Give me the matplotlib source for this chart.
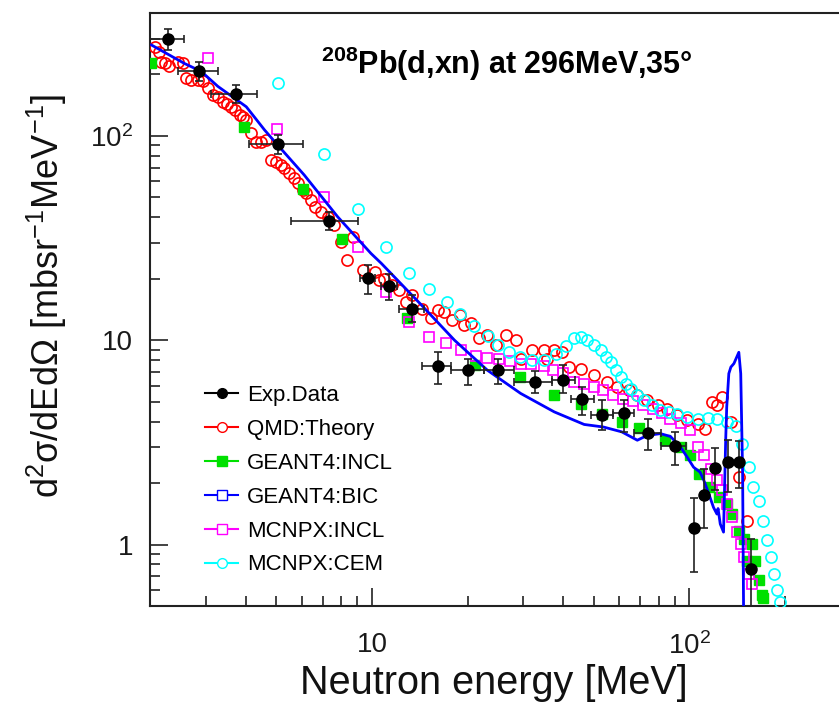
import matplotlib
matplotlib.use("Agg")
import matplotlib.pyplot as plt
from matplotlib.lines import Line2D
from matplotlib.ticker import FixedLocator, FixedFormatter, LogLocator, NullFormatter
import numpy as np

plt.rcParams['font.family'] = ['Liberation Sans', 'DejaVu Sans']
plt.rcParams['mathtext.fontset'] = 'custom'
plt.rcParams['mathtext.rm'] = 'Liberation Sans'
plt.rcParams['mathtext.it'] = 'Liberation Sans:italic'
plt.rcParams['mathtext.bf'] = 'Liberation Sans:bold'

# ---- measured spectrum (energy, value, x-range, y-range) ----
exp_e = [2.28, 2.86, 3.73, 5.05, 7.31, 9.69, 11.3, 13.4, 16.2, 20.0, 25.0, 32.7,
         40.1, 45.7, 53.1, 62.1, 74.1, 89.9]
exp_y = [298, 208, 160, 91.4, 38.5, 20.1, 18.4, 14.3, 7.46, 7.13, 7.13, 6.25,
         6.41, 5.18, 4.29, 4.41, 3.53, 3.03]
exp_elo = [1.9, 2.45, 3.12, 4.10, 5.58, 9.2, 10.7, 12.2, 14.4, 17.8, 22.5, 28.0,
           37.0, 42.3, 48.8, 57.6, 66.9, 81.2]
exp_ehi = [2.56, 3.28, 4.35, 6.05, 9.02, 10.2, 12.0, 14.6, 17.8, 22.5, 28.0, 37.0,
           43.5, 49.9, 57.6, 66.9, 81.2, 97.2]
exp_ylo = [264, 185, 145, 82, 34.6, 16.9, 15.7, 12.3, 6.10, 6.05, 6.10, 5.5,
           5.5, 4.29, 3.62, 3.56, 2.89, 2.45]
exp_yhi = [333, 231, 178, 101, 42.6, 23.3, 21.2, 16.6, 8.80, 8.13, 8.10, 7.1,
           7.6, 5.90, 5.08, 5.08, 4.13, 3.57]

# high-energy points (no energy bin bars)
exp2_e = [103, 111, 120, 132, 143, 156]
exp2_y = [1.21, 1.75, 2.37, 2.53, 2.53, 0.76]
exp2_ylo = [0.73, 1.21, 1.85, 1.8, 1.9, 0.45]
exp2_yhi = [1.69, 2.33, 2.98, 3.25, 3.2, 1.07]

# ---- QMD theory ----
qmd_e = [2.08, 2.13, 2.17, 2.23, 2.30, 2.45, 2.54, 2.60, 2.70, 2.83, 2.93, 3.04,
         3.16, 3.28, 3.40, 3.49, 3.60, 3.71, 3.83, 3.93, 4.02, 4.16, 4.32, 4.48,
         4.65, 4.81, 4.99, 5.17, 5.29, 5.49, 5.70, 5.84, 6.06, 6.19, 6.43, 6.60,
         6.92, 7.26, 7.61, 7.99, 8.35, 8.70, 9.35, 10.2, 10.5, 10.9, 11.6, 12.2,
         12.8, 13.4, 14.4, 15.3, 16.1, 16.9, 17.9, 19.0, 19.5, 20.5, 21.7, 23.1,
         24.5, 26.4, 28.4, 29.4, 32.0, 34.8, 35.6, 37.4, 39.8, 41.7, 45.4, 50.0,
         55.1, 59.3, 64.6, 68.5, 73.7, 79.3, 85.0, 91.4, 98.5, 106, 112, 118,
         122, 127, 135, 143, 152]
qmd_y = [273, 258, 231, 228, 219, 231, 227, 192, 188, 188, 185, 171,
         159, 156, 147, 144, 139, 134, 127, 124, 120, 103, 93.7, 93.7,
         95.6, 76.2, 74.8, 72.1, 69.5, 65.6, 62.1, 58.7, 54.3, 52.4, 48.5, 45.0,
         42.5, 40.2, 36.6, 30.4, 24.7, 32.1, 22.0, 21.6, 19.7, 20.0, 18.6, 17.6,
         15.4, 16.6, 14.3, 12.8, 14.0, 13.8, 12.5, 13.3, 11.9, 12.1, 10.2, 10.6,
         9.45, 10.6, 10.0, 8.13, 8.93, 8.93, 8.13, 8.93, 8.77, 7.39, 7.26, 6.73,
         6.25, 5.90, 5.69, 5.37, 5.08, 4.80, 4.62, 4.29, 4.06, 3.91, 3.69, 4.99,
         4.80, 5.27, 3.98, 2.14, 1.31]

# ---- GEANT4 INCL ----
g4incl_e = [2.02, 3.94, 6.06, 8.05, 12.9, 21.1, 29.2, 37.5, 45.4, 53.2, 61.4, 69.1,
            84.0, 93.7, 100.7, 107, 115, 124, 131, 136, 143, 148, 152, 157, 161,
            165, 169, 171]
g4incl_y = [227, 111, 55.0, 31.3, 12.9, 7.53, 6.61, 5.37, 4.90, 4.37, 3.98, 3.71,
            3.24, 3.00, 2.73, 2.22, 1.91, 1.71, 1.58, 1.41, 1.17, 1.07, 0.835, 1.01,
            0.835, 0.667, 0.563, 0.545]

# ---- GEANT4 BIC ----
bic_e = [2.02, 2.56, 2.90, 3.27, 3.69, 4.02, 4.26, 4.59, 4.94, 6.12, 7.80, 9.93,
         10.7, 14.3, 18.2, 23.1, 29.4, 37.5, 46.6, 53.6, 61.2, 68.5, 73.6, 81.0,
         87.1, 93.7, 98.3, 103, 108, 111, 114, 117, 119, 122, 123, 125, 128,
         130, 131, 133, 135, 138, 143, 145, 147, 148]
bic_y = [279, 227, 207, 175, 153, 139, 124, 107, 93.8, 64.4, 40.2, 26.6,
         23.8, 14.9, 10.0, 7.13, 5.49, 4.46, 3.87, 3.76, 3.56, 3.24, 3.42, 3.49,
         3.38, 3.00, 2.68, 2.39, 2.26, 2.06, 1.84, 1.64, 1.52, 1.41, 1.50, 1.26, 1.15,
         3.24, 4.71, 6.87, 7.39, 7.69, 8.73, 6.87, 2.22, 0.49]

# ---- MCNPX INCL ----
mxincl_e = [3.04, 5.03, 7.05, 9.05, 11.1, 13.1, 15.1, 17.1, 19.1, 21.2, 23.1, 25.1,
            27.2, 29.4, 31.6, 34.8, 37.2, 39.9, 43.2, 46.6, 50.1, 53.3, 57.4, 61.7,
            66.3, 71.3, 76.6, 81.7, 87.1, 93.7, 100.7, 106, 111, 117, 122, 127,
            131, 136, 141, 145, 148, 154, 157]
mxincl_y = [240, 108, 50.4, 28.6, 17.3, 12.3, 10.4, 9.64, 8.93, 8.40, 8.17, 8.07,
            7.89, 7.69, 7.69, 7.46, 7.13, 6.89, 6.25, 6.09, 5.90, 5.69, 5.37, 5.17,
            5.02, 4.80, 4.62, 4.39, 4.13, 3.94, 3.62, 3.00, 2.73, 2.35, 2.06, 1.84,
            1.58, 1.36, 1.15, 1.01, 0.867, 0.718, 0.641]

# ---- MCNPX CEM ----
cem_e = [5.05, 7.05, 9.05, 11.1, 13.1, 15.1, 17.2, 19.0, 21.0, 23.2, 25.0, 27.0,
         29.2, 32.0, 34.8, 37.9, 40.7, 43.3, 45.4, 47.7, 50.0, 52.5, 54.5, 56.4,
         58.6, 60.7, 63.1, 65.2, 68.5, 71.8, 76.2, 81.0, 86.0, 91.5, 98.5, 106,
         114, 122, 131, 140, 146, 154, 159, 165, 171, 175, 180, 185, 189, 193]
cem_y = [182, 81.6, 43.8, 28.6, 21.4, 17.8, 15.4, 13.5, 11.8, 10.5, 9.45, 8.79,
         8.28, 7.98, 7.98, 8.61, 9.4, 10.2, 10.4, 10.0, 9.45, 8.93, 8.28, 7.84,
         7.13, 6.61, 6.13, 5.80, 5.37, 5.08, 4.80, 4.54, 4.44, 4.37, 4.20, 4.12,
         4.16, 4.12, 3.98, 3.81, 3.12, 2.39, 1.91, 1.64, 1.31, 1.05, 0.867, 0.718,
         0.596, 0.521]

x_ticks = [10, 100]
x_ticklabels = ['10', r'$\mathdefault{10^{2}}$']
y_ticks = [1, 10, 100]
y_ticklabels = ['1', '10', r'$\mathdefault{10^{2}}$']

RED = '#ff0000'
GREEN = '#00e000'
BLUE = '#0000ff'
MAGENTA = '#ff00ff'
CYAN = '#00ffff'

W, H = 839, 704
fig = plt.figure(figsize=(W / 100, H / 100), dpi=100)
ax = fig.add_axes([150 / W, 98 / H, (841 - 150) / W, 593 / H])
ax.set_xscale('log')
ax.set_yscale('log')
ax.set_xlim(2, 300)
ax.set_ylim(0.5, 400)

ax.plot(qmd_e, qmd_y, ls='none', marker='o', ms=8, mfc='none', mec=RED, mew=1.2, zorder=3)
ax.plot(g4incl_e, g4incl_y, ls='none', marker='s', ms=7, mfc=GREEN, mec=GREEN, zorder=3)
ax.plot(mxincl_e, mxincl_y, ls='none', marker='s', ms=7.5, mfc='none', mec=MAGENTA, mew=1.2, zorder=3)
ax.plot(cem_e, cem_y, ls='none', marker='o', ms=8, mfc='none', mec=CYAN, mew=1.2, zorder=3)
ax.plot(bic_e, bic_y, color=BLUE, lw=2.0, zorder=4)

exp_e_a = np.array(exp_e)
exp_y_a = np.array(exp_y)
xerr = [exp_e_a - np.array(exp_elo), np.array(exp_ehi) - exp_e_a]
yerr = [exp_y_a - np.array(exp_ylo), np.array(exp_yhi) - exp_y_a]
ax.errorbar(exp_e, exp_y, xerr=xerr, yerr=yerr, fmt='o', color='black', ms=8,
            ecolor='#222222', elinewidth=1.2, capsize=3, capthick=1.2, zorder=5)
e2 = np.array(exp2_y)
ax.errorbar(exp2_e, exp2_y, yerr=[e2 - np.array(exp2_ylo), np.array(exp2_yhi) - e2],
            fmt='o', color='black', ms=8, ecolor='#222222', elinewidth=1.2,
            capsize=3, capthick=1.2, zorder=5)

# axes styling
for side in ('left', 'bottom', 'top', 'right'):
    ax.spines[side].set_linewidth(1.5)
    ax.spines[side].set_color('#222222')
ax.xaxis.set_major_locator(FixedLocator(x_ticks))
ax.xaxis.set_major_formatter(FixedFormatter(x_ticklabels))
ax.yaxis.set_major_locator(FixedLocator(y_ticks))
ax.yaxis.set_major_formatter(FixedFormatter(y_ticklabels))
ax.xaxis.set_minor_locator(LogLocator(base=10, subs=np.arange(2, 10), numticks=20))
ax.yaxis.set_minor_locator(LogLocator(base=10, subs=np.arange(2, 10), numticks=20))
ax.xaxis.set_minor_formatter(NullFormatter())
ax.yaxis.set_minor_formatter(NullFormatter())
ax.tick_params(which='both', direction='in', top=False, right=False, color='#222222')
ax.tick_params(which='major', length=13, width=1.2, labelsize=20, labelcolor='#1a1a1a')
ax.tick_params(which='minor', length=7, width=1.2)
ax.tick_params(axis='x', which='major', pad=19)
ax.tick_params(axis='y', which='major', pad=12)

fig.text(494 / W, 1 - 683 / H, 'Neutron energy [MeV]', fontsize=28.5,
         ha='center', va='center', color='#111111')
fig.text(47 / W, 1 - 296 / H, r'd$^{2}$σ/dEdΩ [mbsr$^{-1}$MeV$^{-1}$]', fontsize=26,
         rotation=90, ha='center', va='center', color='#111111')
fig.text(321 / W, 1 - 64 / H, r'$^{\mathbf{208}}$Pb(d,xn) at 296MeV,35°', fontsize=22,
         fontweight='bold', ha='left', va='center')

handles = [
    Line2D([], [], color='black', lw=1.5, marker='o', ms=7, mfc='black', mec='black'),
    Line2D([], [], color=RED, lw=1.5, marker='o', ms=7, mfc='white', mec=RED),
    Line2D([], [], color=GREEN, lw=1.5, marker='s', ms=6.5, mfc=GREEN, mec=GREEN),
    Line2D([], [], color=BLUE, lw=1.5, marker='s', ms=6.5, mfc='white', mec=BLUE),
    Line2D([], [], color=MAGENTA, lw=1.5, marker='s', ms=6.5, mfc='white', mec=MAGENTA),
    Line2D([], [], color=CYAN, lw=1.5, marker='o', ms=7, mfc='white', mec=CYAN),
]
labels = ['Exp.Data', 'QMD:Theory', 'GEANT4:INCL', 'GEANT4:BIC', 'MCNPX:INCL', 'MCNPX:CEM']
fig.legend(handles, labels, loc='upper left', bbox_to_anchor=(205 / W, 1 - 385 / H),
           frameon=False, fontsize=16, handlelength=1.5, handletextpad=0.4,
           labelspacing=0.58, borderpad=0, borderaxespad=0)

fig.savefig('out.png', dpi=100)
